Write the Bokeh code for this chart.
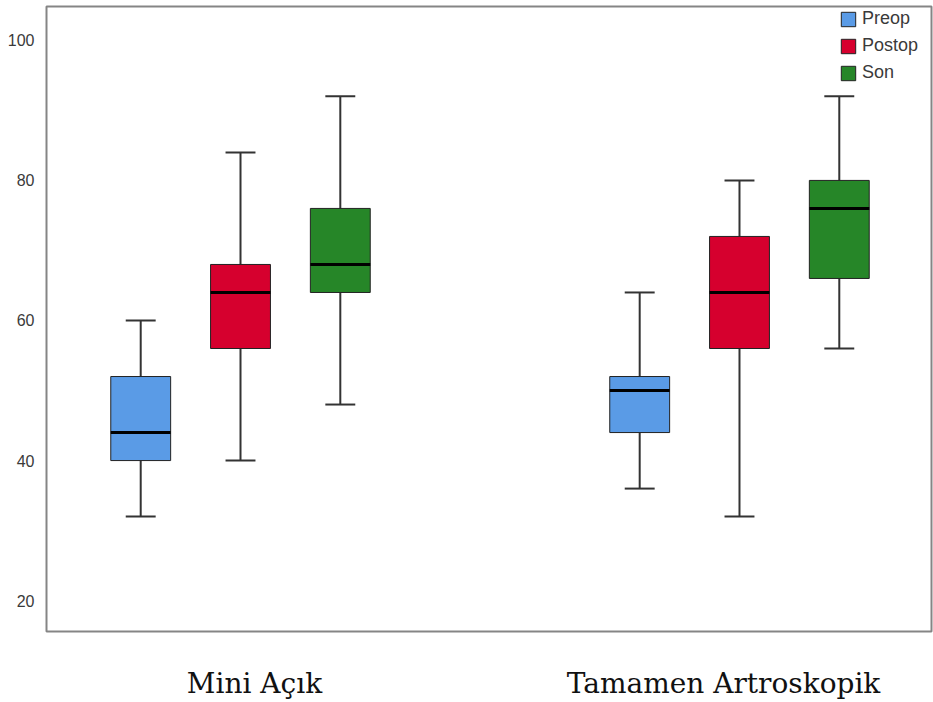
from bokeh.plotting import figure
from bokeh.models import FixedTicker, ColumnDataSource, Legend, LegendItem
from bokeh.embed import file_html
from bokeh.resources import INLINE

# ---- data ----
groups = ["Mini Açık", "Tamamen Artroskopik"]
series = ["Preop", "Postop", "Son"]
colors = ["#5a9be6", "#d6002e", "#268628"]
lower = [[32, 40, 48], [36, 32, 56]]
q1 = [[40, 56, 64], [44, 56, 66]]
median = [[44, 64, 68], [50, 64, 76]]
q3 = [[52, 68, 76], [52, 72, 80]]
upper = [[60, 84, 92], [64, 80, 92]]
y_ticks = [20, 40, 60, 80, 100]

group_pos = [0, 5]
offsets = [-1, 0, 1]
label_pos = [0.14, 4.84]
box_w = 0.6
cap_w = 0.3

p = figure(width=933, height=702, output_backend="svg", toolbar_location=None,
           x_range=(-1.944, 6.924), y_range=(15.595, 104.83),
           min_border_left=46, min_border_right=2, min_border_top=6, min_border_bottom=68)
p.xgrid.visible = False
p.ygrid.visible = False
p.outline_line_color = "#858585"
p.outline_line_width = 2
p.background_fill_color = "white"

renderers = {}
for si, s in enumerate(series):
    xs = [g + offsets[si] for g in group_pos]
    lo = [lower[gi][si] for gi in range(len(groups))]
    a = [q1[gi][si] for gi in range(len(groups))]
    m = [median[gi][si] for gi in range(len(groups))]
    b = [q3[gi][si] for gi in range(len(groups))]
    hi = [upper[gi][si] for gi in range(len(groups))]
    src = ColumnDataSource(dict(x=xs, lo=lo, q1=a, med=m, q3=b, hi=hi,
                                xl=[x - cap_w / 2 for x in xs], xr=[x + cap_w / 2 for x in xs],
                                bl=[x - box_w / 2 for x in xs], br=[x + box_w / 2 for x in xs]))
    p.segment(x0="x", y0="q3", x1="x", y1="hi", source=src, line_color="#333333", line_width=2)
    p.segment(x0="x", y0="lo", x1="x", y1="q1", source=src, line_color="#333333", line_width=2)
    p.segment(x0="xl", y0="hi", x1="xr", y1="hi", source=src, line_color="#333333", line_width=2)
    p.segment(x0="xl", y0="lo", x1="xr", y1="lo", source=src, line_color="#333333", line_width=2)
    r = p.vbar(x="x", width=box_w, bottom="q1", top="q3", source=src,
               fill_color=colors[si], line_color="#222222", line_width=1)
    p.segment(x0="bl", y0="med", x1="br", y1="med", source=src, line_color="black", line_width=3)
    renderers[s] = r

legend = Legend(items=[LegendItem(label=s, renderers=[renderers[s]]) for s in series],
                location=(793, 548))
legend.glyph_width = 18
legend.glyph_height = 18
legend.label_height = 18
legend.spacing = 6
legend.padding = 0
legend.margin = 0
legend.label_standoff = 5
legend.label_text_font = "Liberation Sans"
legend.label_text_font_size = "18px"
legend.label_text_color = "#3a3a3a"
legend.border_line_color = None
legend.background_fill_alpha = 0
p.add_layout(legend)

p.yaxis.ticker = FixedTicker(ticks=y_ticks)
p.yaxis.axis_line_color = None
p.yaxis.major_tick_line_color = None
p.yaxis.minor_tick_line_color = None
p.yaxis.major_label_text_font = "Liberation Sans"
p.yaxis.major_label_text_font_size = "16px"
p.yaxis.major_label_text_color = "#3a3a3a"
p.yaxis.major_label_standoff = 6

p.xaxis.ticker = FixedTicker(ticks=label_pos)
p.xaxis.major_label_overrides = {label_pos[i]: groups[i] for i in range(len(groups))}
p.xaxis.axis_line_color = None
p.xaxis.major_tick_line_color = None
p.xaxis.minor_tick_line_color = None
p.xaxis.major_label_text_font = "DejaVu Serif"
p.xaxis.major_label_text_font_size = "28px"
p.xaxis.major_label_text_color = "#111111"
p.xaxis.major_label_standoff = 29

open("out.html", "w").write(file_html(p, INLINE))
